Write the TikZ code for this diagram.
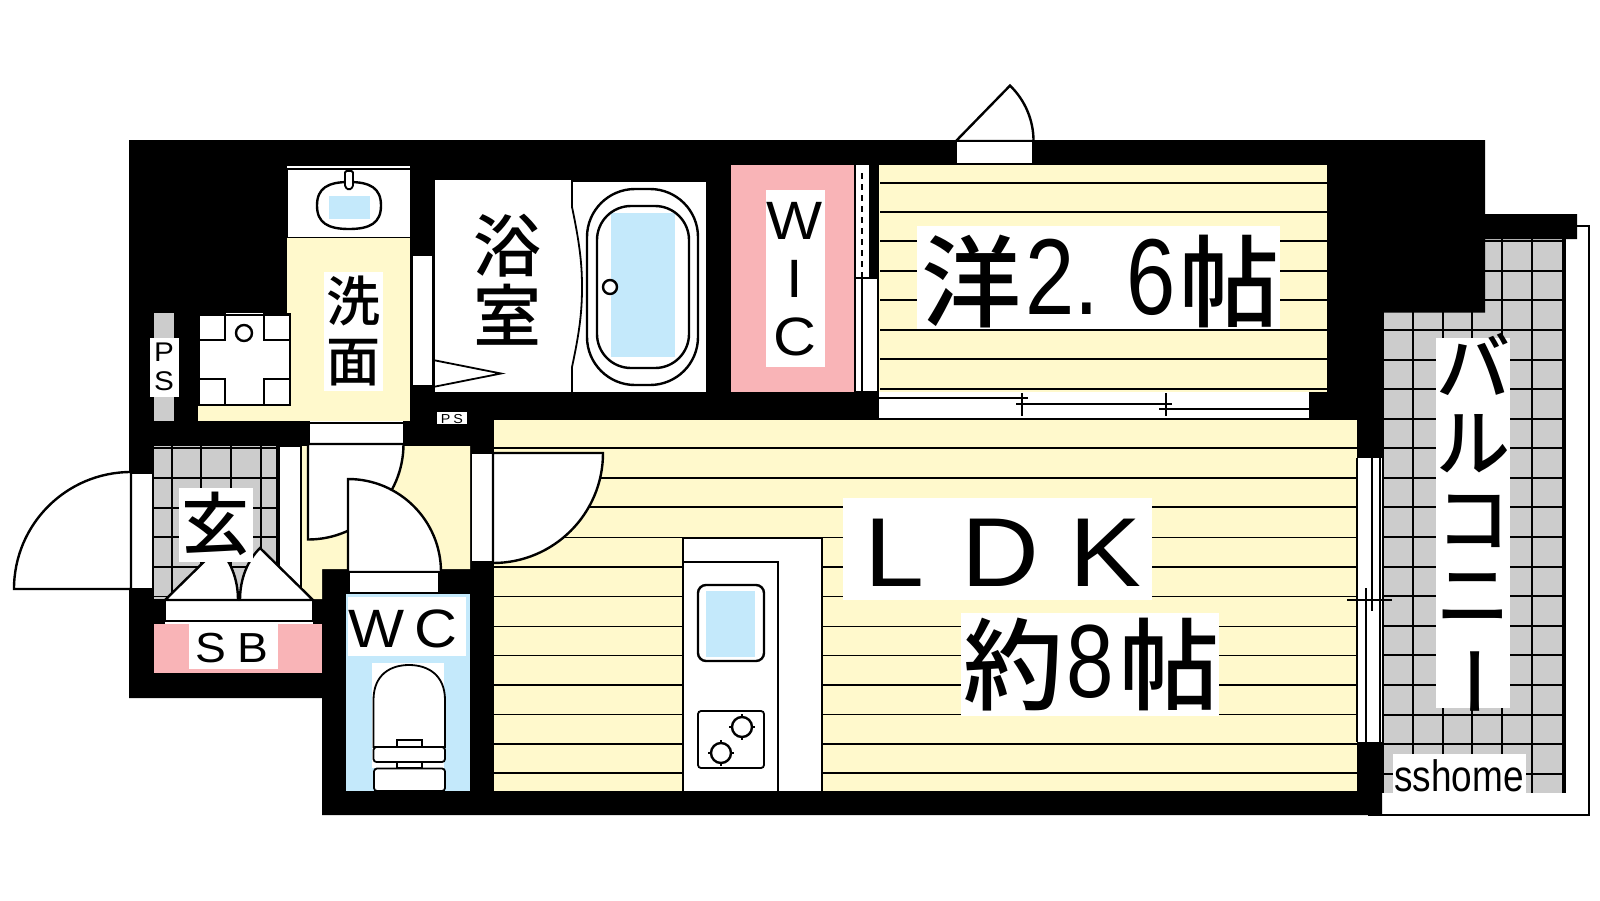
\documentclass[tikz,border=0pt]{standalone}
\usepackage{fontspec}
\setmainfont{Liberation Sans}
\newfontfamily\cjk{Noto Sans CJK JP Medium}
\newfontfamily\cond{Liberation Sans}[FakeStretch=0.82]
\newfontfamily\logofont{Liberation Sans}[FakeStretch=0.84]
\newfontfamily\wide{Liberation Sans}[FakeStretch=1.1]
\newcommand{\fs}[2]{\fontsize{#1}{#2}\selectfont}
\definecolor{ycol}{HTML}{FFF9CC}
\definecolor{pcol}{HTML}{F9B4B7}
\definecolor{bcol}{HTML}{C4E9FB}
\definecolor{gcol}{HTML}{CCCCCC}
\tikzset{
  ln/.style={draw=black,line width=1.8pt},
  thk/.style={draw=black,line width=2.4pt},
  wpanel/.style={ln,fill=white},
  txt/.style={inner sep=0pt,outer sep=0pt,align=center,text=black},
}
\begin{document}
\begin{tikzpicture}[x=1pt,y=-1pt]
\useasboundingbox (0,0) rectangle (1600,900);
\fill[white] (0,0) rectangle (1600,900);
% balcony
\draw[ln] (1577,226) -- (1589,226) -- (1589,815) -- (1368,815);
\fill[gcol] (1383,239) rectangle (1565,793);
\foreach \x in {1383,1413,1443,1472,1502,1532,1563}
  \draw[ln] (\x,239) -- (\x,793);
\draw[ln] (1565,239) -- (1565,793);
\foreach \y in {241,271,300,330,360,389,419,448,478,507,537,567,596,626,655,685,715,744,774}
  \draw[ln] (1383,\y) -- (1565,\y);
% walls
\fill[black] (129,140) -- (1485,140) -- (1485,214) -- (1577,214) -- (1577,239) -- (1485,239) -- (1485,312.5) -- (1382,312.5) -- (1382,815) -- (322,815) -- (322,698) -- (129,698) -- cycle;
% bedroom
\fill[ycol] (879,165) rectangle (1327,392);
\foreach \y in {182.7,211.7,241,271,300,330,359,389}
  \draw[ln] (880,\y) -- (1327,\y);
% bedroom sliding door
\fill[white] (879,392) rectangle (1309,418);
\draw[ln] (879,398) -- (1028,398);
\draw[ln] (1016,404) -- (1172,404);
\draw[ln] (1159,409) -- (1309,409);
\draw[ln] (1022,393) -- (1022,416);
\draw[ln] (1166,393) -- (1166,416);
% LDK
\fill[ycol] (494,418) rectangle (1357,791);
\foreach \y in {419,448,478,507,537.5,567,596.5,626.5,655.5,685,714.5,744,773}
  \draw[ln] (494,\y) -- (1357,\y);
% LDK door
\draw[wpanel] (471,453) rectangle (493,562);
\draw[thk,fill=white] (493,453) -- (603,453) arc[start angle=0,end angle=-90,radius=110pt] -- cycle;
% balcony sliding door
\fill[white] (1357,458) rectangle (1382,742);
\draw[ln] (1357,458) -- (1357,742);
\draw[ln] (1366,588) -- (1366,742);
\draw[ln] (1372,458) -- (1372,611);
\draw[ln] (1380,458) -- (1380,742);
\draw[ln] (1347,600) -- (1392,600);
% kitchen
\draw[ln,fill=white] (683,791) -- (683,538) -- (822,538) -- (822,791);
\draw[ln] (683,562) -- (778,562) -- (778,791);
\fill[bcol] (706,591) rectangle (755,657);
\draw[thk,rounded corners=8pt] (698,585) rectangle (764,661);
\draw[ln,rounded corners=3pt] (698,711) rectangle (764,768);
\foreach \c in {(742,727),(721,753)} {
  \draw[ln] \c ++(-13,0) -- ++(26,0);
  \draw[ln] \c ++(0,-13) -- ++(0,26);
  \draw[thk,fill=white] \c circle[radius=10pt];
}
% WIC
\fill[pcol] (731,165) rectangle (854,392);
\fill[white] (856,165) rectangle (869,278);
\fill[white] (856,278) rectangle (878,392);
\draw[ln] (855,165) -- (855,392);
\draw[ln] (878,278) -- (878,392);
\draw[ln] (855,278) -- (878,278);
\draw[ln] (862,278) -- (862,392);
\draw[ln] (855,392) -- (878,392);
\draw[line width=2.8pt,dash pattern=on 6pt off 5pt] (862,173) -- (862,278);
\fill[white] (766,190) rectangle (825,367);
% bath
\fill[white] (435,180) rectangle (572,392);
\fill[white] (572,182) rectangle (706,392);
\draw[ln] (572,180) -- (572,207) .. controls (580,245) and (582,265) .. (582,287) .. controls (582,310) and (580,330) .. (572,367) -- (572,392);
\fill[bcol] (611,213) rectangle (675,357);
\draw[thk,rounded corners=48pt] (587,189) rectangle (698,385);
\draw[thk,rounded corners=34pt] (597,206) rectangle (689,368);
\draw[thk,fill=white] (610,287) circle[radius=7pt];
\draw[wpanel] (412,255) rectangle (433,386);
\draw[ln] (433,360) -- (501,373.5) -- (433,387);
% washroom
\fill[ycol] (287,237) rectangle (410,421);
\fill[ycol] (198,313) rectangle (287,421);
\fill[white] (287,165) rectangle (410,237);
\draw[ln] (287,165.5) -- (410,165.5);
\draw[ln] (287,169) -- (410,169);
\draw[ln] (287,237.5) -- (410,237.5);
\draw[ln] (287,169) -- (287,237);
\draw[thk] (317,205.5) .. controls (317,188) and (328,182) .. (349,182) .. controls (370,182) and (381,188) .. (381,205.5) .. controls (381,223) and (370,229) .. (349,229) .. controls (328,229) and (317,223) .. (317,205.5) -- cycle;
\fill[bcol] (329,196) rectangle (370,219);
\draw[ln,fill=white,rounded corners=1.5pt] (345,171) -- (353,171) -- (353,187) -- (349,190) -- (345,187) -- cycle;
% washing pan
\fill[white] (198,313) rectangle (287,314);
\draw[wpanel] (199,315) rectangle (290,405);
\foreach \a/\b in {199/314,264/314,199/379,264/379}
  \draw[ln] (\a,\b) rectangle ++(26,26);
\draw[thk] (244,333) circle[radius=8pt];
% PS column
\fill[gcol] (154,313) rectangle (174,421);
% genkan
\fill[gcol] (154,446) rectangle (276,599);
\foreach \x in {172,201,231,261}
  \draw[ln] (\x,446) -- (\x,599);
\foreach \y in {448,478,508,537,567,596.5}
  \draw[ln] (154,\y) -- (276,\y);
\draw[wpanel] (279,446) rectangle (301,600);
% entrance door
\draw[wpanel] (131,473) rectangle (153,589);
\draw[thk,fill=white] (14,589) arc[start angle=180,end angle=90,radius=117pt] -- (131,589) -- cycle;
% corridor
\fill[ycol] (302,446) -- (470,446) -- (470,569) -- (322,569) -- (322,599) -- (302,599) -- cycle;
\fill[white] (310,421) rectangle (403,444);
\draw[ln] (310,423) -- (403,423);
\draw[ln] (310,444) -- (403,444);
\draw[thk,fill=white] (403.5,444) arc[start angle=0,end angle=-90,radius=95.5pt] -- (308,444) -- cycle;
\draw[thk,fill=white] (348,572) -- (348,479) arc[start angle=90,end angle=0,radius=93pt] -- cycle;
\draw[wpanel] (349,572) rectangle (439,593);
% WC
\fill[bcol] (346,594) rectangle (470,791);
\fill[white] (372,663) rectangle (444,768);
\draw[ln,fill=white,rounded corners=3pt] (374,768.5) rectangle (445,791);
\draw[ln,fill=white] (397,762) rectangle (422,768);
\draw[ln,fill=white,rounded corners=3pt] (373.5,747) -- (373.5,762) -- (445,762) -- (445,747) -- cycle;
\draw[ln,fill=white] (373.5,747) -- (373.5,700) .. controls (373.5,675) and (390,665) .. (409,665) .. controls (428,665) and (445,675) .. (445,700) -- (445,747) -- (422,747) -- (422,740) -- (397,740) -- (397,747) -- cycle;
% shoe box
\fill[pcol] (154,624) rectangle (322,673);
\draw[wpanel] (165,600) rectangle (313,621);
\fill[white] (165,622) rectangle (313,624);
\draw[thk,fill=white] (165,600) -- (218,548) .. controls (230,560) and (238,578) .. (238,600) -- cycle;
\draw[thk,fill=white] (313,600) -- (260,548) .. controls (248,560) and (240,578) .. (240,600) -- cycle;
% white label backgrounds
\fill[white] (917,226) rectangle (1280,329);
\fill[white] (843,498) rectangle (1152,600);
\fill[white] (961,613) rectangle (1219,716);
\fill[white] (1436,338) rectangle (1510,708);
\fill[white] (1393,754) rectangle (1526,793);
\fill[white] (324,272) rectangle (383,391);
\fill[white] (150,338) rectangle (179,397);
\fill[white] (437,412) rectangle (467,424);
\fill[white] (179,488) rectangle (253,562);
\fill[white] (189,624) rectangle (278,669);
\fill[white] (348,597) rectangle (466,656);
% labels
\node[txt,anchor=base west] (bed) at (921,319) {\fs{100}{100}\cjk 洋\kern4pt\cond\fs{108}{108}\raise5pt\hbox{2.}\kern28pt \raise5pt\hbox{6}\kern3pt\cjk\fs{100}{100}帖};
\node[txt,anchor=base west] (ldk) at (864,586) {\wide\fs{98}{98}L\kern38pt D\kern30pt K};
\node[txt,anchor=base west] (ldksize) at (963,702) {\fs{100}{100}\cjk 約\kern3pt\cond\fs{104}{104}\raise5pt\hbox{8}\kern6pt\cjk\fs{100}{100}帖};
\node[txt,font=\cjk\fs{68}{70}] (bath) at (507,280) {浴\\室};
\node[txt,font=\cjk\fs{54}{60}] (wash) at (353,331) {洗\\面};
\node[txt,font=\wide\fs{54}{58}] (wic) at (795,279) {W\\I\\C};
\node[txt,font=\wide\fs{27}{29}] (psa) at (164,367) {P\\S};
\node[txt,anchor=base] (psb) at (452,423) {\wide\fs{13}{14}P\kern3pt S};
\node[txt,font=\cjk\fs{68}{68}] (hall) at (215,524) {玄};
\node[txt,anchor=base] (sb) at (232,662) {\wide\fs{42}{42}S\kern12pt B};
\node[txt,anchor=base] (wc) at (403,647) {\wide\fs{54}{54}W\kern10pt C};
\node[txt,font=\cjk\fs{74}{76}] (balc) at (1473,526) {バ\\ル\\コ\\ニ\\\kern28pt\rotatebox[origin=c]{90}{ー}};
\node[txt,anchor=base] (logo) at (1459,791) {\logofont\fs{44}{44}sshome};
% top door
\draw[thk,fill=white] (956,141) -- (1010,85.6) arc[start angle=46,end angle=0,radius=77pt] -- cycle;
\draw[wpanel] (956,141) rectangle (1033,164);
\end{tikzpicture}
\end{document}
